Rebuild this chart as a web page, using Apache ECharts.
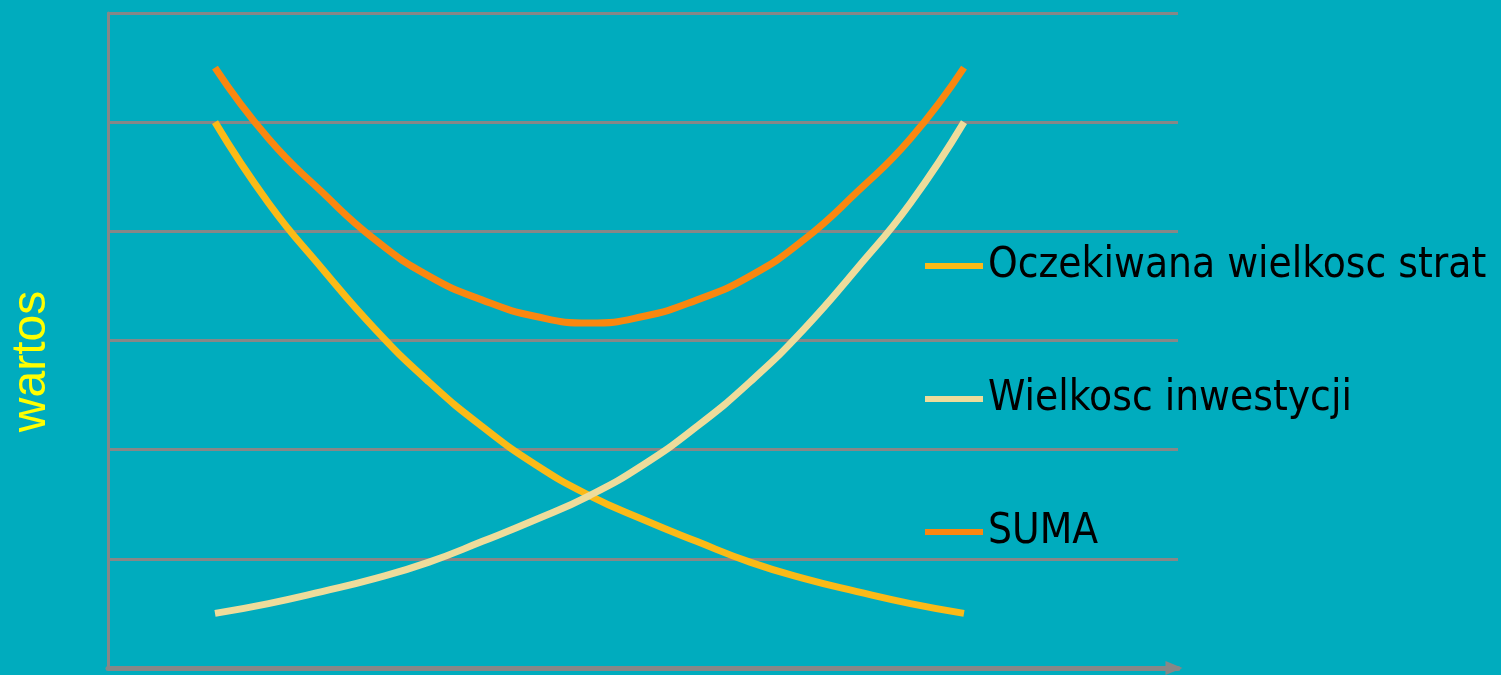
<!DOCTYPE html>
<html lang="pl">
<head>
    <meta charset="UTF-8">
    <title>wartos</title>
    <script src="https://cdn.jsdelivr.net/npm/echarts@6/dist/echarts.min.js"></script>
    <style>
        html, body {
            margin: 0;
            padding: 0;
            background-color: #00acbe;
        }
        #chart-container {
            width: 1501px;
            height: 675px;
        }
    </style>
</head>
<body>
    <div id="chart-container"></div>

    <script>
        // dane (co pol kroku osi x)
        var seriesNames = ['Oczekiwana wielkosc strat', 'Wielkosc inwestycji', 'SUMA'];
        var xPoints = [1, 1.5, 2, 2.5, 3, 3.5, 4, 4.5, 5, 5.5, 6, 6.5, 7, 7.5, 8];
        var strat = [5.0, 4.26, 3.66, 3.10, 2.62, 2.21, 1.86, 1.58, 1.36, 1.16, 0.97, 0.82, 0.70, 0.59, 0.5];
        var inwestycje = [0.5, 0.59, 0.70, 0.82, 0.97, 1.16, 1.36, 1.58, 1.86, 2.21, 2.62, 3.10, 3.66, 4.26, 5.0];
        var suma = [5.5, 4.85, 4.36, 3.92, 3.59, 3.37, 3.22, 3.16, 3.22, 3.37, 3.59, 3.92, 4.36, 4.85, 5.5];
        var lineColors = ['#fbba17', '#eedc9b', '#fa870f'];

        function pairs(ys) {
            return xPoints.map(function (x, i) { return [x, ys[i]]; });
        }

        var chartDom = document.getElementById('chart-container');
        var myChart = echarts.init(chartDom);

        var gridColor = '#878787';

        var option = {
            backgroundColor: '#00acbe',
            animation: false,
            grid: {
                left: 107,
                right: 323,
                top: 13,
                bottom: 7
            },
            legend: {
                orient: 'vertical',
                left: 925,
                top: 236,
                padding: 0,
                icon: 'rect',
                itemWidth: 58,
                itemHeight: 6,
                itemGap: 73,
                textStyle: {
                    color: '#000',
                    fontFamily: "'Liberation Sans Narrow', 'DejaVu Sans Condensed', sans-serif",
                    fontSize: 42,
                    lineHeight: 60
                },
                data: seriesNames
            },
            xAxis: {
                type: 'value',
                min: 0,
                max: 10,
                axisLabel: { show: false },
                axisTick: { show: false },
                splitLine: { show: false },
                axisLine: {
                    show: true,
                    symbol: ['none', 'triangle'],
                    symbolSize: [14, 17],
                    symbolOffset: [0, -4],
                    lineStyle: { color: gridColor, width: 5 }
                }
            },
            yAxis: {
                type: 'value',
                min: 0,
                max: 6,
                interval: 1,
                name: 'wartos',
                nameLocation: 'middle',
                nameGap: 52,
                nameRotate: 90,
                nameTextStyle: {
                    color: '#ffff00',
                    fontFamily: "'Liberation Sans', Arial, sans-serif",
                    fontSize: 48,
                    padding: [0, 42, 0, 0]
                },
                axisLabel: { show: false },
                axisTick: { show: false },
                axisLine: {
                    show: true,
                    lineStyle: { color: gridColor, width: 3 }
                },
                splitLine: {
                    show: true,
                    lineStyle: { color: gridColor, width: 3 }
                }
            },
            series: [
                {
                    name: seriesNames[0],
                    type: 'line',
                    smooth: true,
                    showSymbol: false,
                    lineStyle: { color: lineColors[0], width: 7 },
                    itemStyle: { color: lineColors[0] },
                    data: pairs(strat)
                },
                {
                    name: seriesNames[1],
                    type: 'line',
                    smooth: true,
                    showSymbol: false,
                    lineStyle: { color: lineColors[1], width: 7 },
                    itemStyle: { color: lineColors[1] },
                    data: pairs(inwestycje)
                },
                {
                    name: seriesNames[2],
                    type: 'line',
                    smooth: true,
                    showSymbol: false,
                    lineStyle: { color: lineColors[2], width: 7 },
                    itemStyle: { color: lineColors[2] },
                    data: pairs(suma)
                }
            ]
        };

        myChart.setOption(option);
    </script>
</body>
</html>
